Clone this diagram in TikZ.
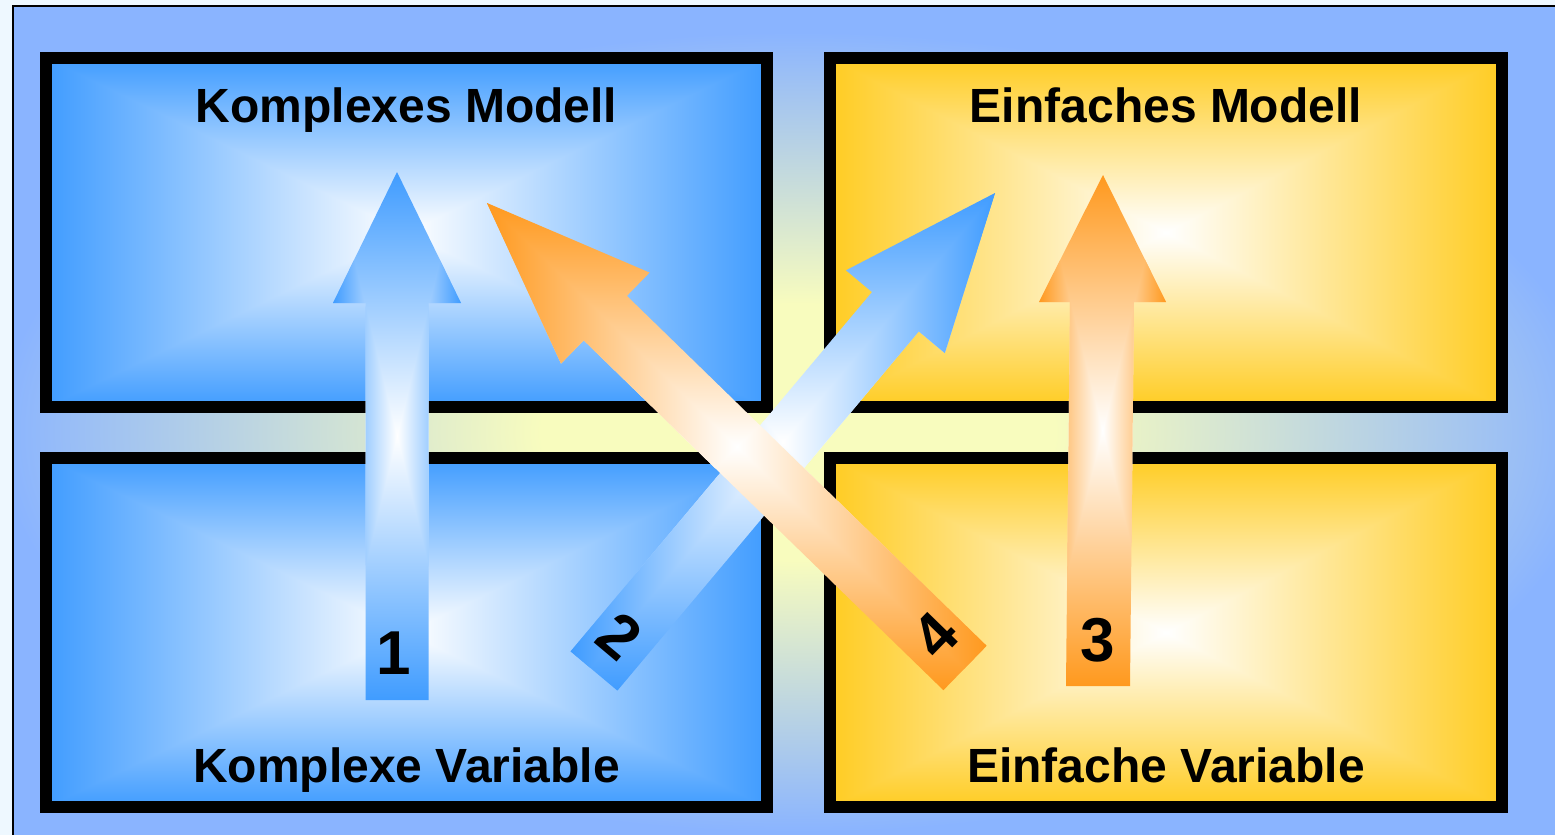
\documentclass[tikz,border=0pt]{standalone}
\usepackage{fontspec}
\setmainfont{Liberation Sans}
\usetikzlibrary{positioning,calc}
\definecolor{bgcyan}{RGB}{238,248,255}
\definecolor{panelblue}{RGB}{138,180,255}
\definecolor{glowyellow}{RGB}{248,252,190}
\definecolor{boxblue}{RGB}{64,156,255}
\definecolor{boxyellow}{RGB}{255,204,34}
\definecolor{arrowblue}{RGB}{64,156,255}
\definecolor{arroworange}{RGB}{255,153,30}
\pgfdeclareradialshading{centreglow}{\pgfpoint{0bp}{0bp}}{color(0bp)=(glowyellow); color(8bp)=(glowyellow); color(25bp)=(panelblue); color(50bp)=(panelblue)}
% gradient from the edges of a box to white in its middle
\newcommand{\glowfill}[3]{%
  \coordinate (gc) at ($(#1)!0.5!(#2)$);
  \shade[top color=#3, bottom color=#3, middle color=white] (#1) rectangle (#2);
  \shade[left color=#3, right color=white] (#1) -- (#2 -| #1) -- (gc) -- cycle;
  \shade[right color=#3, left color=white] (#1 -| #2) -- (#2) -- (gc) -- cycle;
}
\tikzset{main box/.style={draw=black, line width=6pt, inner sep=0pt,
    minimum height=174.5pt,
    path picture={\glowfill{path picture bounding box.north west}{path picture bounding box.south east}{#1}}},
  block arrow/.style={path picture={\glowfill{path picture bounding box.north west}{path picture bounding box.south east}{#1}}},
  title text/.style={font=\bfseries\fontsize{24}{28}\selectfont, inner sep=0pt, anchor=base},
  num text/.style={font=\bfseries\fontsize{31}{36}\selectfont, inner sep=0pt},
}
\begin{document}
\begin{tikzpicture}[x=0.5pt,y=-0.5pt]
	\fill[bgcyan] (0,0) rectangle (1555,835);
	\useasboundingbox (0,0) rectangle (1555,835);
	\begin{scope}
		\clip (0,0) rectangle (1555,835);
		\fill[panelblue] (13,6) rectangle (1580,860);
		\begin{scope}
			\clip (13,6) rectangle (1580,860);
			\shade[shading=centreglow] (798,432) ellipse [x radius=400pt, y radius=200pt];
		\end{scope}
		\draw[line width=1pt] (13,6) rectangle (1580,860);
	\end{scope}
	
	% the four boxes
	\node[main box=boxblue, minimum width=360.5pt] (km) at (406.5,232.5) {};
	\node[main box=boxblue, minimum width=360.5pt] (kv) at (406.5,632.5) {};
	\node[main box=boxyellow, minimum width=336pt] (em) at (1166,232.5) {};
	\node[main box=boxyellow, minimum width=336pt] (ev) at (1166,632.5) {};
	
	\node[title text] (kmt) at ([yshift=-35pt]km.north) {Komplexes Modell};
	\node[title text] (kvt) at ([yshift=15.5pt]kv.south) {Komplexe Variable};
	\node[title text] (emt) at ([yshift=-35pt]em.north) {Einfaches Modell};
	\node[title text] (evt) at ([yshift=15.5pt]ev.south) {Einfache Variable};
	
	% arrows
	\path[block arrow=arrowblue] (365.5,700) -- (365.5,303) -- (333,303) -- (397,172)
		-- (461,303) -- (428.5,303) -- (428.5,700) -- cycle;
	\path[block arrow=arroworange] (1066,686) -- (1070,302) -- (1039,302) -- (1103,175)
		-- (1166,302) -- (1134,302) -- (1130,686) -- cycle;
	\path[block arrow=arrowblue] (570.6,651.4) -- (872.0,292.1) -- (846.0,270.3) -- (995,193)
		-- (944.8,353.1) -- (918.8,331.3) -- (617.4,690.6) -- cycle;
	\path[block arrow=arroworange] (943.4,690.2) -- (583.7,340.3) -- (561.0,363.6) -- (487,203)
		-- (649.6,272.6) -- (626.9,295.9) -- (986.6,645.8) -- cycle;
	
	\node[num text] (n1) at (394,653) {1};
	\node[num text, rotate=-40] (n2) at (620,636) {2};
	\node[num text] (n3) at (1098,640) {3};
	\node[num text, rotate=45.8] (n4) at (935,635) {4};
\end{tikzpicture}
\end{document}
